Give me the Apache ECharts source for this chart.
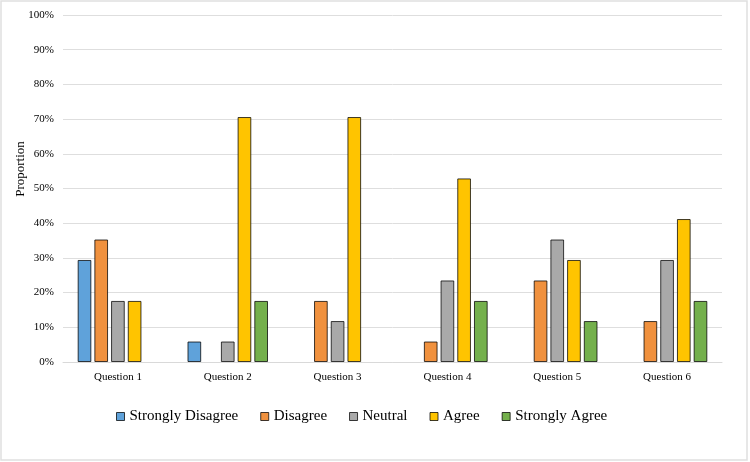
<!DOCTYPE html>
<html>
<head>
<meta charset="utf-8">
<script src="https://cdn.jsdelivr.net/npm/echarts@6/dist/echarts.min.js"></script>
<style>
html,body{margin:0;padding:0;background:#fff;}
#chart{width:750px;height:462px;}
</style>
</head>
<body>
<div id="chart"></div>
<script>
var categories = ['Question 1','Question 2','Question 3','Question 4','Question 5','Question 6'];
var seriesNames = ['Strongly Disagree','Disagree','Neutral','Agree','Strongly Agree'];
var stronglyDisagree = [29.4, 5.9, 0, 0, 0, 0];
var disagree = [35.3, 0, 17.6, 5.9, 23.5, 11.8];
var neutral = [17.6, 5.9, 11.8, 23.5, 35.3, 29.4];
var agree = [17.6, 70.6, 70.6, 52.9, 29.4, 41.2];
var stronglyAgree = [0, 17.6, 0, 17.6, 11.8, 17.6];
var yTicks = [0,10,20,30,40,50,60,70,80,90,100];
var yAxisTitle = 'Proportion';

var values = [stronglyDisagree, disagree, neutral, agree, stronglyAgree];
var colors = ['#5FA2DA','#F0913E','#A9A9A9','#FFC400','#74B04C'];
var FONT = '"Liberation Serif","Times New Roman",serif';

var chart = echarts.init(document.getElementById('chart'), null, {renderer:'canvas'});
var series = seriesNames.map(function(n, i){
  return {
    name: n,
    type: 'bar',
    barGap: '22%',
    barCategoryGap: '26.7%',
    itemStyle: {color: colors[i], borderColor: 'rgba(0,0,0,0.75)', borderWidth: 1},
    data: values[i].map(function(v){ return v === 0 ? '-' : v; })
  };
});
chart.setOption({
  animation: false,
  backgroundColor: '#fff',
  textStyle: {fontFamily: FONT},
  grid: {left: 63, right: 28, top: 15, bottom: 100, containLabel: false},
  legend: {
    left: 111, top: 404,
    itemWidth: 8, itemHeight: 8, itemGap: 22,
    icon: 'rect',
    textStyle: {fontFamily: FONT, fontSize: 15, color: '#000'},
    itemStyle: {borderColor: 'rgba(0,0,0,0.75)', borderWidth: 1},
    data: seriesNames
  },
  xAxis: {
    type: 'category',
    data: categories,
    axisLine: {lineStyle: {color: '#d9d9d9', width: 1}},
    axisTick: {show: false},
    axisLabel: {fontFamily: FONT, fontSize: 11, color: '#000', margin: 10}
  },
  yAxis: {
    type: 'value',
    min: yTicks[0], max: yTicks[yTicks.length-1], interval: yTicks[1]-yTicks[0],
    axisLine: {show: false},
    axisTick: {show: false},
    splitLine: {lineStyle: {color: '#dedede', width: 1}},
    axisLabel: {fontFamily: FONT, fontSize: 11, color: '#000', margin: 9, formatter: '{value}%'}
  },
  graphic: [{
    type: 'rect', silent: true, z: -1,
    shape: {x: 1, y: 1, width: 746, height: 459},
    style: {fill: 'none', stroke: '#e0e0e0', lineWidth: 1.5}
  }, {
    type: 'text', silent: true,
    x: 21, y: 169, rotation: Math.PI / 2,
    style: {text: yAxisTitle, font: '13px ' + FONT, fill: '#000', align: 'center', verticalAlign: 'middle'}
  }],
  series: series
});
</script>
</body>
</html>
